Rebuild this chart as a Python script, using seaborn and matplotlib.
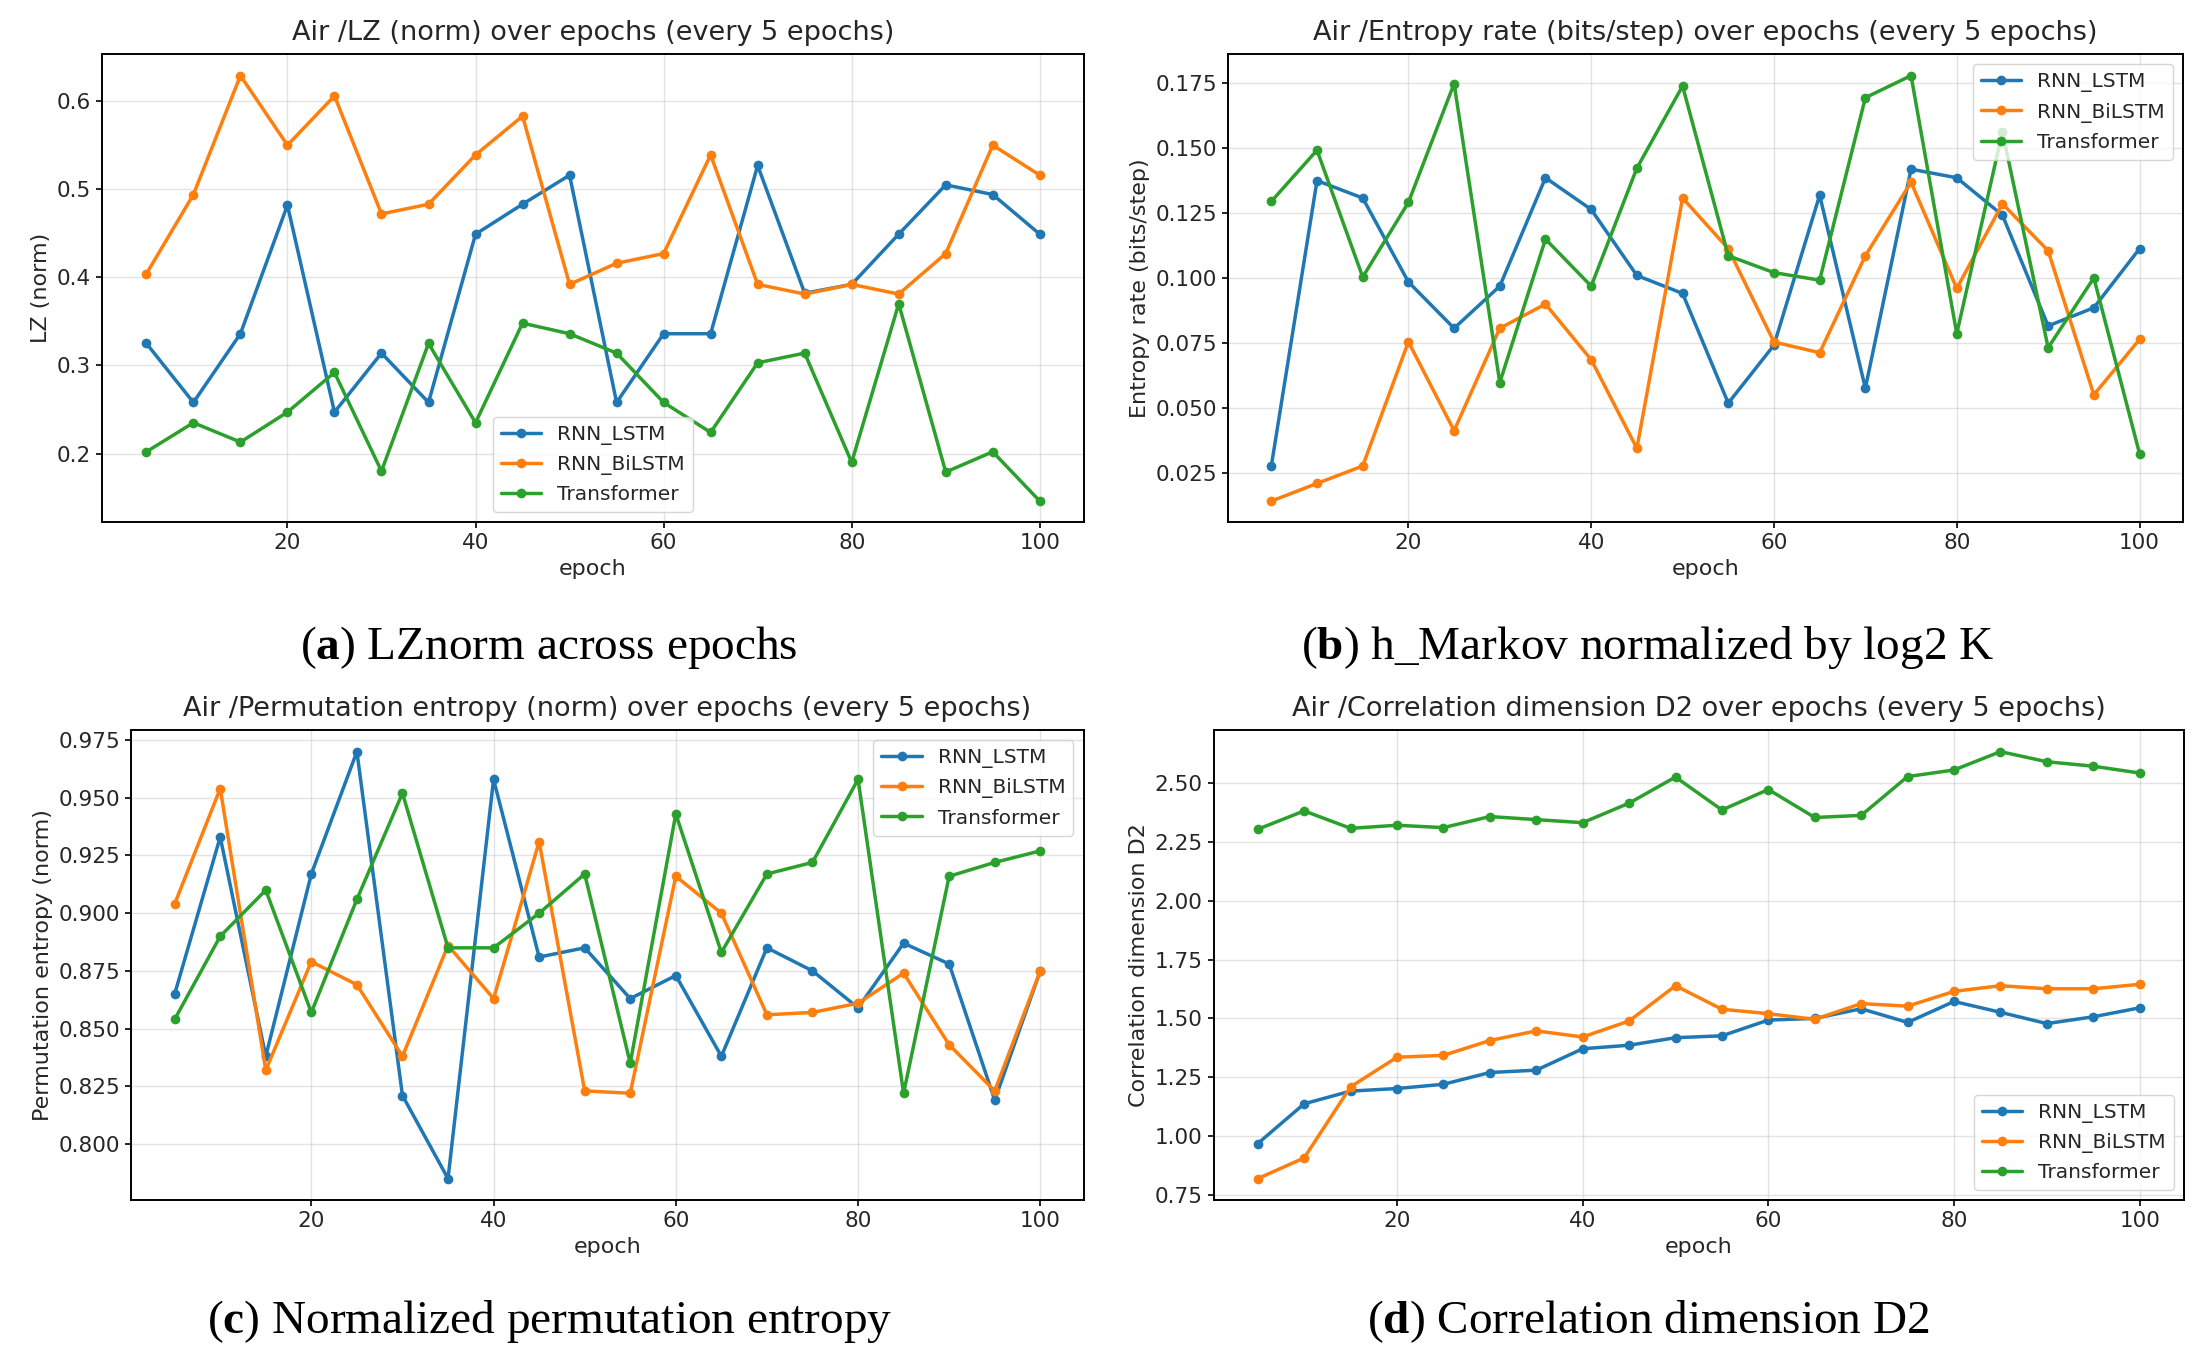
import pandas as pd
import seaborn as sns
import matplotlib.pyplot as plt

# ==============================================================================
# DATA (every 5 epochs)
# ==============================================================================
epochs = [5, 10, 15, 20, 25, 30, 35, 40, 45, 50, 55, 60, 65, 70, 75, 80, 85, 90, 95, 100]
models = ["RNN_LSTM", "RNN_BiLSTM", "Transformer"]
colors = ["#1f77b4", "#ff7f0e", "#2ca02c"]

# (a) LZ (norm)
lz_lstm = [0.325, 0.258, 0.336, 0.482, 0.247, 0.314, 0.258, 0.449, 0.483, 0.516,
           0.258, 0.336, 0.336, 0.527, 0.382, 0.392, 0.449, 0.505, 0.494, 0.449]
lz_bilstm = [0.404, 0.494, 0.629, 0.550, 0.606, 0.472, 0.483, 0.539, 0.583, 0.392,
             0.416, 0.427, 0.539, 0.392, 0.381, 0.392, 0.381, 0.427, 0.550, 0.516]
lz_transformer = [0.202, 0.235, 0.213, 0.247, 0.292, 0.180, 0.325, 0.235, 0.348, 0.336,
                  0.314, 0.258, 0.224, 0.303, 0.314, 0.190, 0.370, 0.179, 0.202, 0.146]

# (b) Entropy rate (bits/step)
er_lstm = [0.0276, 0.1374, 0.1307, 0.0984, 0.0806, 0.0968, 0.1385, 0.1263, 0.1009, 0.0940,
           0.0518, 0.0741, 0.1318, 0.0575, 0.1418, 0.1385, 0.1241, 0.0815, 0.0885, 0.1112]
er_bilstm = [0.0141, 0.0209, 0.0276, 0.0754, 0.0412, 0.0806, 0.0899, 0.0685, 0.0344, 0.1307,
             0.1112, 0.0753, 0.0712, 0.1085, 0.1368, 0.0959, 0.1285, 0.1104, 0.0550, 0.0763]
er_transformer = [0.1294, 0.1491, 0.1003, 0.1290, 0.1747, 0.0597, 0.1149, 0.0968, 0.1422, 0.1738,
                  0.1085, 0.1020, 0.0991, 0.1693, 0.1778, 0.0785, 0.1562, 0.0731, 0.1000, 0.0324]

# (c) Permutation entropy (norm)
pe_lstm = [0.865, 0.933, 0.838, 0.917, 0.970, 0.821, 0.785, 0.958, 0.881, 0.885,
           0.863, 0.873, 0.838, 0.885, 0.875, 0.859, 0.887, 0.878, 0.819, 0.875]
pe_bilstm = [0.904, 0.954, 0.832, 0.879, 0.869, 0.838, 0.886, 0.863, 0.931, 0.823,
             0.822, 0.916, 0.900, 0.856, 0.857, 0.861, 0.874, 0.843, 0.823, 0.875]
pe_transformer = [0.854, 0.890, 0.910, 0.857, 0.906, 0.952, 0.885, 0.885, 0.900, 0.917,
                  0.835, 0.943, 0.883, 0.917, 0.922, 0.958, 0.822, 0.916, 0.922, 0.927]

# (d) Correlation dimension D2
d2_lstm = [0.968, 1.137, 1.191, 1.202, 1.220, 1.270, 1.280, 1.371, 1.386, 1.418,
           1.426, 1.493, 1.500, 1.541, 1.483, 1.572, 1.526, 1.478, 1.507, 1.545]
d2_bilstm = [0.819, 0.907, 1.209, 1.335, 1.343, 1.406, 1.447, 1.421, 1.489, 1.639,
             1.539, 1.520, 1.496, 1.563, 1.552, 1.615, 1.639, 1.626, 1.626, 1.645]
d2_transformer = [2.304, 2.382, 2.308, 2.321, 2.311, 2.358, 2.345, 2.332, 2.415, 2.526,
                  2.386, 2.473, 2.354, 2.363, 2.528, 2.556, 2.634, 2.591, 2.572, 2.543]

titles = [
    "Air /LZ (norm) over epochs (every 5 epochs)",
    "Air /Entropy rate (bits/step) over epochs (every 5 epochs)",
    "Air /Permutation entropy (norm) over epochs (every 5 epochs)",
    "Air /Correlation dimension D2 over epochs (every 5 epochs)",
]
ylabels = ["LZ (norm)", "Entropy rate (bits/step)",
           "Permutation entropy (norm)", "Correlation dimension D2"]
captions = [
    r"($\mathbf{a}$) LZnorm across epochs",
    r"($\mathbf{b}$) h_Markov normalized by log2 K",
    r"($\mathbf{c}$) Normalized permutation entropy",
    r"($\mathbf{d}$) Correlation dimension D2",
]
legend_locs = ["lower center", "upper right", "upper right", "lower right"]

# ==============================================================================
# STYLE
# ==============================================================================
sns.set_theme(style="ticks")
plt.rcParams["font.family"] = ["DejaVu Sans"]
plt.rcParams["mathtext.fontset"] = "custom"
plt.rcParams["mathtext.rm"] = "Liberation Serif"
plt.rcParams["mathtext.bf"] = "Liberation Serif:bold"

fig = plt.figure(figsize=(21.97, 13.65), dpi=100)

# axes boxes [left, bottom, width, height] in figure fractions
boxes = [
    [0.0463, 0.6173, 0.4473, 0.3429],
    [0.5589, 0.6173, 0.4347, 0.3429],
    [0.0598, 0.1209, 0.4334, 0.3441],
    [0.5524, 0.1209, 0.4416, 0.3441],
]
panels = [
    (lz_lstm, lz_bilstm, lz_transformer),
    (er_lstm, er_bilstm, er_transformer),
    (pe_lstm, pe_bilstm, pe_transformer),
    (d2_lstm, d2_bilstm, d2_transformer),
]


def draw_panel(ax, series, title, ylabel, loc):
    for name, vals, col in zip(models, series, colors):
        df = pd.DataFrame({"epoch": epochs, "value": vals})
        sns.lineplot(data=df, x="epoch", y="value", ax=ax, color=col,
                     marker="o", markersize=7, markeredgewidth=0,
                     linewidth=2.5, label=name)
    ax.set_title(title, fontsize=19.5, pad=10)
    ax.set_xlabel("epoch", fontsize=16)
    ax.set_ylabel(ylabel, fontsize=16)
    ax.set_xticks([20, 40, 60, 80, 100])
    ax.tick_params(labelsize=15.5, length=4.5, width=1.2, color="black")
    ax.grid(True, color="#b0b0b0", alpha=0.35, linewidth=1.0)
    for sp in ax.spines.values():
        sp.set_visible(True)
        sp.set_color("black")
        sp.set_linewidth(1.4)
    ax.legend(loc=loc, fontsize=14.5, frameon=True, framealpha=0.8,
              edgecolor="#cccccc", fancybox=True)


for i in range(4):
    ax = fig.add_axes(boxes[i])
    draw_panel(ax, panels[i], titles[i], ylabels[i], legend_locs[i])

# panel captions
cap_pos = [(0.250, 0.526), (0.750, 0.526), (0.250, 0.032), (0.750, 0.032)]
for (x, y), cap in zip(cap_pos, captions):
    fig.text(x, y, cap, ha="center", va="center", fontsize=34,
             family="Liberation Serif", color="black")

fig.savefig("out.png", dpi=100)
plt.close(fig)
